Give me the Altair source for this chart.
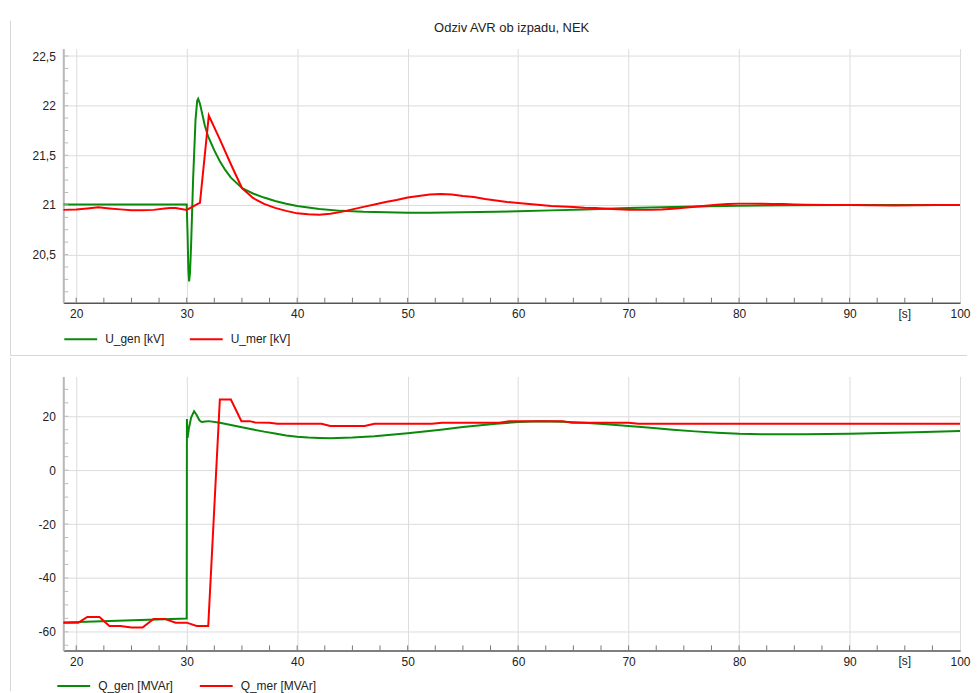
import altair as alt
import pandas as pd

TITLE = "Odziv AVR ob izpadu, NEK"
X_UNIT = "[s]"

# ---- top panel: voltages ----
ugen_t = [18.83, 30.0, 30.08, 30.15, 30.22, 30.3, 30.4, 30.58, 30.8, 30.95, 31.04, 31.2, 31.34, 31.64,
          31.94, 32.5, 33.0, 33.5, 34.0, 35.0, 36.0, 37.0, 38.0, 39.0, 40.0, 42.0, 44.0, 46.0, 48.0,
          50.0, 52.0, 55.0, 58.0, 60.0, 63.0, 66.0, 70.0, 73.0, 76.0, 80.0, 85.0, 90.0, 95.0, 100.0]
ugen_v = [21.005, 21.005, 20.7, 20.35, 20.23, 20.32, 20.6, 21.26, 21.86, 22.05, 22.07, 22.02, 21.95, 21.8,
          21.69, 21.55, 21.44, 21.35, 21.275, 21.17, 21.115, 21.074, 21.04, 21.012, 20.99, 20.96, 20.94, 20.93, 20.925,
          20.922, 20.922, 20.925, 20.93, 20.935, 20.945, 20.955, 20.968, 20.976, 20.984, 20.992, 20.997, 21.0, 21.0, 21.0]

umer_t = [18.83, 20, 21, 22, 23, 24, 25, 26, 27, 28, 28.5, 29, 30, 30.5, 31, 31.2, 32.0, 33, 34, 35, 36, 37,
          38, 39, 40, 41, 42, 43, 44, 45, 46, 47, 48, 49, 50, 51, 52, 53, 54, 55, 56, 57, 58, 59, 60, 61, 62,
          63, 64, 65, 66, 67, 68, 69, 70, 71, 72, 73, 74, 75, 76, 77, 78, 79, 80, 81, 82, 83, 84, 85, 86, 88,
          90, 92, 94, 96, 98, 100]
umer_v = [20.95, 20.955, 20.965, 20.977, 20.965, 20.955, 20.947, 20.947, 20.95, 20.965, 20.97, 20.968, 20.95,
          20.98, 21.01, 21.02, 21.9, 21.66, 21.41, 21.17, 21.07, 21.01, 20.97, 20.94, 20.915, 20.905, 20.9, 20.91,
          20.93, 20.955, 20.98, 21.005, 21.03, 21.05, 21.075, 21.09, 21.105, 21.11, 21.105, 21.09, 21.08, 21.06,
          21.045, 21.03, 21.02, 21.01, 21.0, 20.99, 20.985, 20.98, 20.972, 20.968, 20.962, 20.956, 20.952, 20.95,
          20.95, 20.953, 20.962, 20.972, 20.982, 20.992, 21.002, 21.01, 21.013, 21.013, 21.012, 21.01, 21.008,
          21.005, 21.002, 21.0, 20.998, 20.997, 20.995, 20.996, 20.998, 21.0]

# ---- bottom panel: reactive power ----
qgen_t = [18.83, 30.0, 30.02, 30.08, 30.2, 30.4, 30.67, 30.9, 31.15, 31.35, 31.7, 32.0, 33, 34, 35, 36, 37,
          38, 39, 40, 41, 42, 43, 45, 47, 50, 53, 55, 58, 60, 62, 64, 66, 68, 70, 72, 74, 76, 78, 80, 82, 84,
          86, 88, 90, 93, 96, 100]
qgen_v = [-56.5, -55.1, 19.0, 12.0, 15.5, 19.5, 21.9, 20.5, 18.5, 17.9, 18.1, 18.2, 17.6, 16.8, 15.9, 15.1,
          14.3, 13.6, 12.9, 12.4, 12.1, 11.95, 11.85, 12.1, 12.6, 13.7, 15.0, 16.0, 17.2, 17.9, 18.2, 18.0, 17.6,
          17.0, 16.4, 15.7, 15.0, 14.4, 13.9, 13.5, 13.35, 13.3, 13.3, 13.4, 13.5, 13.8, 14.1, 14.5]

qmer_t = [18.83, 20.2, 21.0, 22.1, 23.0, 24.0, 25.0, 26.0, 27.0, 28.0, 29.0, 30.0, 30.9, 31.95, 33.0, 34.0,
          34.95, 35.7, 36.2, 37.5, 38.2, 42.2, 43.0, 46.1, 47.0, 52.2, 53.1, 58.3, 59.2, 64.0, 64.9, 70.0, 70.9,
          100.0]
qmer_v = [-56.6, -56.6, -54.5, -54.5, -57.8, -57.8, -58.4, -58.4, -55.2, -55.2, -56.6, -56.6, -57.8, -57.8,
          26.2, 26.2, 18.2, 18.2, 17.7, 17.6, 17.2, 17.2, 16.4, 16.4, 17.2, 17.2, 17.6, 17.6, 18.2, 18.2, 17.6,
          17.6, 17.2, 17.2]

SERIES_TOP = ["U_gen [kV]", "U_mer [kV]"]
SERIES_BOT = ["Q_gen [MVAr]", "Q_mer [MVAr]"]
COLORS = ["#0a8a0a", "#ff0000"]

X_DOMAIN = [18.83, 100]
X_MAJOR = [20, 30, 40, 50, 60, 70, 80, 90, 100]
X_MINOR = [20 + 2.5 * i for i in range(32)]

TOP_DOMAIN = [20.015, 22.575]
TOP_MAJOR = [20.5, 21, 21.5, 22, 22.5]
TOP_MINOR = [20.125 + 0.125 * i for i in range(20)]

BOT_DOMAIN = [-66.9, 34.8]
BOT_MAJOR = [-60, -40, -20, 0, 20]
BOT_MINOR = [-65 + 5 * i for i in range(20)]

FONT = "Liberation Sans"
W = 900


def series_df(names, ts, vs):
    rows = []
    for name, t, v in zip(names, ts, vs):
        for a, b in zip(t, v):
            rows.append({"t": a, "v": b, "s": name})
    return pd.DataFrame(rows)


def panel(df, names, ydomain, ymajor, yminor, height, legend_x, legend_y, col_pad,
          border_top, border_bottom, separator=None, title=None):
    xs = alt.Scale(domain=X_DOMAIN, nice=False, zero=False)
    ys = alt.Scale(domain=ydomain, nice=False, zero=False)
    x_axis = alt.Axis(values=X_MAJOR, title=None, ticks=False, tickSize=0, labelPadding=6,
                      labelFontSize=12, labelFont=FONT, labelColor="#222", grid=True,
                      gridColor="#dcdcdc", domainColor="#555", domainWidth=1.5,
                      labelFlush=False)
    y_axis = alt.Axis(values=ymajor, title=None, ticks=False, tickSize=0, labelPadding=8,
                      labelFontSize=12, labelFont=FONT, labelColor="#222", grid=True,
                      gridColor="#dcdcdc", domainColor="#b8b8b8", domainWidth=2,
                      labelExpr="replace(datum.value + '', '.', ',')")
    lines = alt.Chart(df).mark_line(strokeWidth=2, clip=True).encode(
        x=alt.X("t:Q", scale=xs, axis=x_axis),
        y=alt.Y("v:Q", scale=ys, axis=y_axis),
        color=alt.Color("s:N", scale=alt.Scale(domain=names, range=COLORS),
                        legend=alt.Legend(title=None, orient="none", legendX=legend_x, legendY=legend_y,
                                          direction="horizontal", symbolType="stroke", symbolSize=1089,
                                          symbolStrokeWidth=2, labelFontSize=12, labelFont=FONT,
                                          labelColor="#222", columnPadding=col_pad, labelOffset=7,
                                          padding=0)),
        order=alt.Order("t:Q"),
    )
    xminor = alt.Chart(pd.DataFrame({"t": X_MINOR})).mark_rule(color="#777", strokeWidth=1).encode(
        x=alt.X("t:Q"), y=alt.value(height), y2=alt.value(height - 5))
    yminor_c = alt.Chart(pd.DataFrame({"v": yminor})).mark_rule(color="#bbb", strokeWidth=1).encode(
        y=alt.Y("v:Q"), x=alt.value(0), x2=alt.value(5))
    unit = alt.Chart(pd.DataFrame({"u": [X_UNIT]})).mark_text(
        font=FONT, fontSize=12, color="#222", baseline="top").encode(
        text="u:N", x=alt.datum(95), y=alt.value(height + 6))
    border = alt.Chart(pd.DataFrame({"k": [0]})).mark_rule(color="#d6d6d6", strokeWidth=1).encode(
        x=alt.value(-53), y=alt.value(border_top), y2=alt.value(border_bottom))
    layers = [lines, xminor, yminor_c, unit, border]
    if separator is not None:
        sep = alt.Chart(pd.DataFrame({"k": [0]})).mark_rule(color="#d6d6d6", strokeWidth=1).encode(
            x=alt.value(-53), x2=alt.value(907), y=alt.value(separator))
        layers.append(sep)
    if title is not None:
        tt = alt.Chart(pd.DataFrame({"u": [title]})).mark_text(
            font=FONT, fontSize=13, color="#222", baseline="middle", align="center").encode(
            text="u:N", x=alt.value(450), y=alt.value(-21))
        layers.append(tt)
    return alt.layer(*layers).properties(width=W, height=height)


top_df = series_df(SERIES_TOP, [ugen_t, umer_t], [ugen_v, umer_v])
bot_df = series_df(SERIES_BOT, [qgen_t, qmer_t], [qgen_v, qmer_v])

top = panel(top_df, SERIES_TOP, TOP_DOMAIN, TOP_MAJOR, TOP_MINOR, 255, 0, 274, 21,
            -28, 308, separator=308, title=TITLE)
bottom = panel(bot_df, SERIES_BOT, BOT_DOMAIN, BOT_MAJOR, BOT_MINOR, 275, -7, 293, 22,
               -19, 316)

chart = alt.vconcat(top, bottom, spacing=0).resolve_scale(color="independent").properties(
    padding={"left": 1.5, "top": 10.5, "right": 0, "bottom": 0}
).configure_view(stroke=None)

chart.save("out.html", embed_options={"renderer": "svg", "actions": False})
